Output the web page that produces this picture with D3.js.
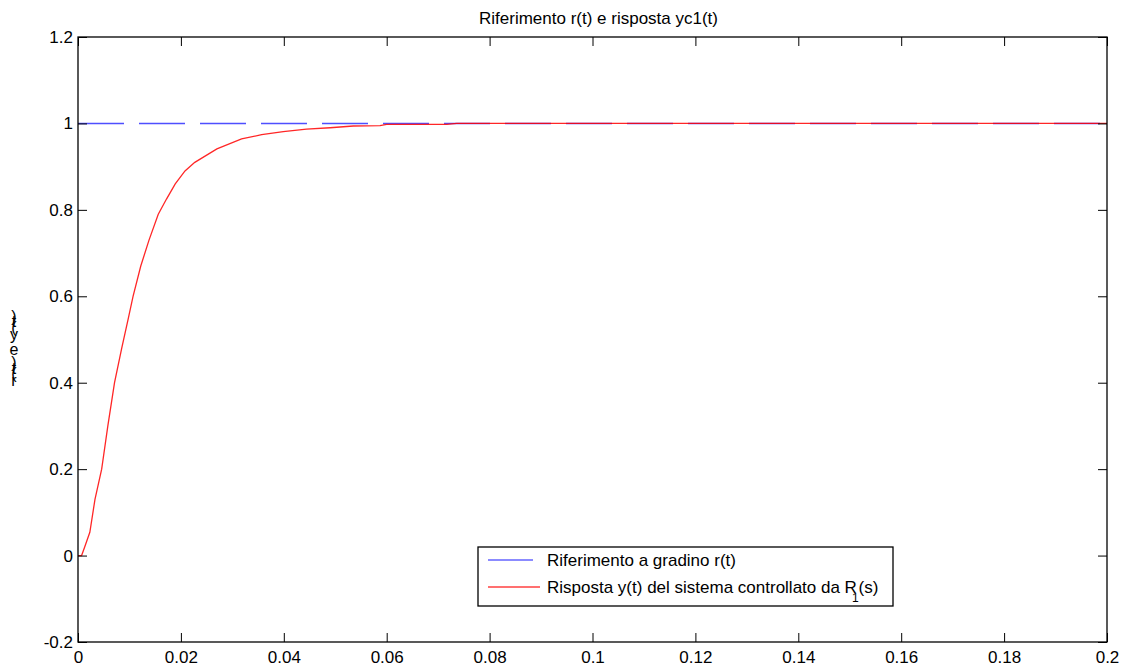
<!DOCTYPE html>
<html>
<head>
<meta charset="utf-8">
<script src="https://cdn.jsdelivr.net/npm/d3@7"></script>
<style>
  body { margin: 0; background: #fff; }
  svg { display: block; }
</style>
</head>
<body>
<div id="chart"></div>
<script>
// time samples (s) of the closed-loop response
const tResp = [0, 0.0007, 0.0013, 0.0023, 0.0033, 0.0046, 0.0058, 0.0071, 0.0085, 0.0098,
               0.0107, 0.0122, 0.0138, 0.0156, 0.0172, 0.0189, 0.0208, 0.0227, 0.027, 0.0318,
               0.0357, 0.0399, 0.0444, 0.049, 0.0535, 0.0587, 0.06, 0.065, 0.0717, 0.0736,
               0.1, 0.15, 0.2]
const yResp = [0, 0, 0.02, 0.054, 0.13, 0.2, 0.3, 0.4, 0.48, 0.55,
               0.6, 0.67, 0.73, 0.79, 0.825, 0.86, 0.89, 0.91, 0.941, 0.964,
               0.974, 0.981, 0.987, 0.99, 0.994, 0.995, 0.998, 0.998, 0.998, 1.0,
               1.0, 1.0, 1.0]

// step reference
const tRef = [0, 0.2]
const yRef = [1, 1]

const xTicks = [0, 0.02, 0.04, 0.06, 0.08, 0.1, 0.12, 0.14, 0.16, 0.18, 0.2]
const yTicks = [-0.2, 0, 0.2, 0.4, 0.6, 0.8, 1, 1.2]

const title = 'Riferimento r(t) e risposta yc1(t)'
const yTitle = 'r(t) e y(t)'
const legendLabels = ['Riferimento a gradino r(t)', 'Risposta y(t) del sistema controllato da R']

const width = 1123,
      height = 667,
      margin = {top: 37, right: 16, bottom: 25, left: 78}

const innerWidth = width - margin.left - margin.right
const innerHeight = height - margin.top - margin.bottom

const xScale = d3.scaleLinear().domain([0, 0.2]).range([0, innerWidth])
const yScale = d3.scaleLinear().domain([-0.2, 1.2]).range([innerHeight, 0])

// plain hyphen for negatives, like the original
const fmt = d => String(+d.toFixed(2))

const svg = d3.select('#chart')
    .append('svg')
    .attr('width', width)
    .attr('height', height)
    .attr('font-family', 'Liberation Sans, Arial, Helvetica, sans-serif')

const g = svg.append('g')
    .attr('transform', `translate(${margin.left},${margin.top})`)

const line = d3.line().x(d => xScale(d[0])).y(d => yScale(d[1]))

g.append('path')
    .datum(tRef.map((t, i) => [t, yRef[i]]))
    .attr('fill', 'none')
    .attr('stroke', '#3030ff')
    .attr('stroke-width', 1.5)
    .attr('stroke-opacity', 0.85)
    .attr('stroke-dasharray', '46,15')
    .attr('d', line)

g.append('path')
    .datum(tResp.map((t, i) => [t, yResp[i]]))
    .attr('fill', 'none')
    .attr('stroke', '#ff0000')
    .attr('stroke-width', 1.3)
    .attr('stroke-opacity', 0.85)
    .attr('d', line)

// axes, ticks pointing inward on all four sides
const axisStyle = sel => {
    sel.select('.domain').remove()
    sel.selectAll('line').attr('stroke', '#000')
    sel.selectAll('text').attr('font-size', '17px').attr('fill', '#000')
}

g.append('g')
    .attr('transform', `translate(0,${innerHeight})`)
    .call(d3.axisBottom(xScale).tickValues(xTicks).tickFormat(fmt)
        .tickSizeInner(-9).tickSizeOuter(0).tickPadding(9))
    .call(axisStyle)
    .attr('font-family', null)

g.append('g')
    .call(d3.axisTop(xScale).tickValues(xTicks).tickFormat('')
        .tickSizeInner(-9).tickSizeOuter(0))
    .call(axisStyle)

g.append('g')
    .call(d3.axisLeft(yScale).tickValues(yTicks).tickFormat(fmt)
        .tickSizeInner(-9).tickSizeOuter(0).tickPadding(5))
    .call(axisStyle)
    .attr('font-family', null)

g.append('g')
    .attr('transform', `translate(${innerWidth},0)`)
    .call(d3.axisRight(yScale).tickValues(yTicks).tickFormat('')
        .tickSizeInner(-9).tickSizeOuter(0))
    .call(axisStyle)

g.append('rect')
    .attr('width', innerWidth)
    .attr('height', innerHeight)
    .attr('fill', 'none')
    .attr('stroke', '#000')
    .attr('stroke-width', 1.3)

// title
svg.append('text')
    .attr('x', margin.left + innerWidth / 2 + 6)
    .attr('y', 24)
    .attr('text-anchor', 'middle')
    .attr('font-size', '17px')
    .text(title)

// y label: rotated string, glyphs left upright (as in the original render)
const probe = svg.append('text').attr('font-size', '16px')
const chars = yTitle.split('')
const adv = chars.map(c => {
    probe.text(c === ' ' ? '\u00a0' : c)
    return probe.node().getComputedTextLength()
})
probe.remove()
const stretch = 70 / d3.sum(adv)
let pos = 348 + 35
chars.forEach((c, i) => {
    const a = adv[i] * stretch
    const mid = pos - a / 2
    pos -= a
    if (c === ' ') return
    svg.append('text')
        .attr('x', 14)
        .attr('y', mid)
        .attr('dy', '0.35em')
        .attr('text-anchor', 'middle')
        .attr('font-size', '16px')
        .text(c)
})

// legend
const legend = svg.append('g')
    .attr('transform', 'translate(478,547)')

legend.append('rect')
    .attr('width', 415)
    .attr('height', 59)
    .attr('fill', '#fff')
    .attr('stroke', '#000')
    .attr('stroke-width', 1.3)

const legendColors = ['#3030ff', '#ff0000']
const rowY = [13, 40]

legendColors.forEach((c, i) => {
    legend.append('line')
        .attr('x1', 10).attr('x2', i === 0 ? 55 : 62)
        .attr('y1', rowY[i]).attr('y2', rowY[i])
        .attr('stroke', c)
        .attr('stroke-opacity', 0.75)
        .attr('stroke-width', 1.5)
})

legend.append('text')
    .attr('x', 69)
    .attr('y', rowY[0] + 6)
    .attr('font-size', '17px')
    .text(legendLabels[0])

const t2 = legend.append('text')
    .attr('x', 69)
    .attr('y', rowY[1] + 6)
    .attr('font-size', '17px')
    .text(legendLabels[1])

t2.append('tspan')
    .attr('dx', -5)
    .attr('dy', 9)
    .attr('font-size', '12px')
    .text('1')

t2.append('tspan')
    .attr('dx', 0)
    .attr('dy', -9)
    .text('(s)')
</script>
</body>
</html>
